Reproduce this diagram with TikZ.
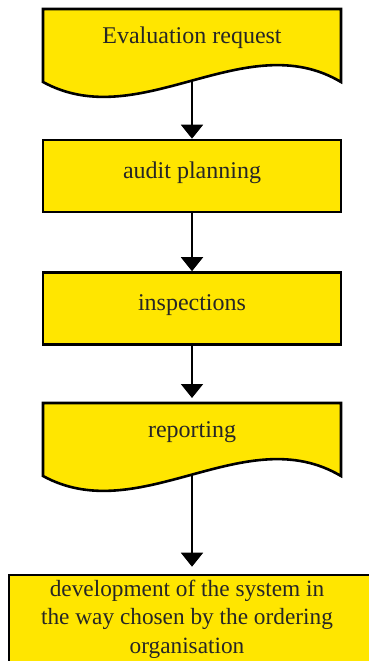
\documentclass[tikz,border=0pt]{standalone}
\usepackage{fontspec}
\setmainfont{Liberation Serif}
\usetikzlibrary{arrows.meta}
\definecolor{boxyellow}{RGB}{255,230,0}
\tikzset{
  boxline/.style={draw=black, line width=2.6pt, fill=boxyellow, line join=miter},
  procbox/.style={boxline, rectangle, minimum width=298pt, minimum height=72pt, inner sep=0pt},
  txt/.style={font=\fontsize{24}{28}\selectfont, text=black!85, inner sep=0pt, align=center},
  arr/.style={line width=2pt, -{Triangle[width=22pt,length=14pt]}}
}
\begin{document}
\begin{tikzpicture}[x=1pt,y=-1pt]
\path[use as bounding box, clip] (0,0) rectangle (369,661);
\fill[white] (0,0) rectangle (369,661);
% document 1
\draw[boxline] (43,9) -- (341,9) -- (341,82)
   .. controls (245,25) and (140,135) .. (43,82) -- cycle;
\node[txt] (t1) at (192,38) {Evaluation request};
\coordinate (w1) at (192,80.5);
% process 2
\node[procbox] (n2) at (192,176) {};
\node[txt] (t2) at (192,173) {audit planning};
% process 3
\node[procbox] (n3) at (192,308.5) {};
\node[txt] (t3) at (192,305) {inspections};
% document 4
\draw[boxline] (43,403) -- (341,403) -- (341,476)
   .. controls (245,419) and (140,529) .. (43,476) -- cycle;
\node[txt] (t4) at (192,432) {reporting};
\coordinate (w4) at (192,474.5);
% final box
\node[boxline, rectangle, minimum width=376pt, minimum height=105pt, inner sep=0pt] (n5) at (197,627.5) {};
\node[txt, font=\fontsize{23.3}{28.5}\selectfont] (t5) at (187,619) {development of the system in\\the way chosen by the ordering\\organisation};
% arrows
\draw[arr] (w1) -- (n2.north);
\draw[arr] (n2.south) -- (n3.north);
\draw[arr, shorten >=5pt] (n3.south) -- (n3.south |- 0,403);
\draw[arr, shorten >=7pt] (w4) -- (w4 |- n5.north);
\end{tikzpicture}
\end{document}
